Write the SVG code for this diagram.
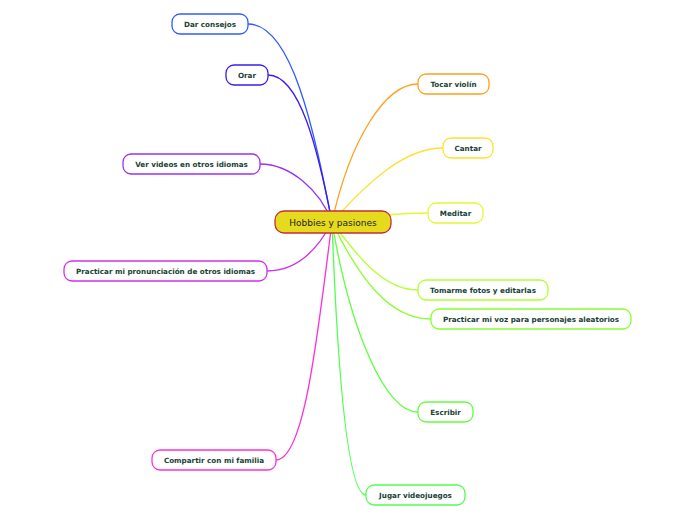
<svg xmlns="http://www.w3.org/2000/svg" width="696" height="520" viewBox="0 0 696 520">
<style>
.c{fill:none;stroke-width:1.3}
.n rect{fill:#fff;stroke-width:1.3}
.n text{font-family:"DejaVu Sans",Verdana,sans-serif;font-weight:bold;font-size:7.2px;fill:#173f33;text-anchor:middle}
</style>
<rect width="696" height="520" fill="#fff"/>
<g id="connectors">
<path class="c" stroke="#2f5cff" d="M332,222 C314,130 292,24 248,24"/>
<path class="c" stroke="#3a1cf0" d="M332,222 C318,150 300,75 268,75"/>
<path class="c" stroke="#9a30f5" d="M332,222 C320,190 290,164 260,164"/>
<path class="c" stroke="#d030ea" d="M332,222 C320,245 300,271 267,271"/>
<path class="c" stroke="#ff30d4" d="M332,222 C318,330 305,460 276,460"/>
<path class="c" stroke="#ffa01e" d="M332,222 C350,140 385,84 418,84"/>
<path class="c" stroke="#ffe030" d="M332,222 C370,180 405,148 443,148"/>
<path class="c" stroke="#e4f830" d="M332,222 C370,216 400,213 428,213"/>
<path class="c" stroke="#b4ff30" d="M332,222 C360,260 385,290 418,290"/>
<path class="c" stroke="#88ff30" d="M332,222 C360,280 390,319 431,319"/>
<path class="c" stroke="#60ff40" d="M332,222 C350,330 385,412 418,412"/>
<path class="c" stroke="#50ff50" d="M332,222 C336,330 345,495 366,495"/>
</g>
<g id="center">
<rect x="275" y="211" width="116" height="22" rx="9" fill="#e6da1c" stroke="#c42c3c" stroke-width="1.3"/>
<text x="333" y="225.5" font-family="DejaVu Sans,Verdana,sans-serif" font-size="9" fill="#222" text-anchor="middle">Hobbies y pasiones</text>
</g>
<g id="n1" class="n"><rect x="172" y="14" width="76" height="20" rx="8" stroke="#2f5cff"/><text x="210" y="26.5">Dar consejos</text></g>
<g id="n2" class="n"><rect x="226" y="65" width="42" height="20" rx="8" stroke="#3a1cf0"/><text x="247" y="77.5">Orar</text></g>
<g id="n3" class="n"><rect x="123" y="154" width="137" height="20" rx="8" stroke="#9a30f5"/><text x="191.5" y="166.5">Ver videos en otros idiomas</text></g>
<g id="n4" class="n"><rect x="64" y="261" width="203" height="20" rx="8" stroke="#d030ea"/><text x="165.5" y="273.5">Practicar mi pronunciación de otros idiomas</text></g>
<g id="n5" class="n"><rect x="152" y="450" width="124" height="20" rx="8" stroke="#ff30d4"/><text x="214" y="462.5">Compartir con mi familia</text></g>
<g id="n6" class="n"><rect x="418" y="74" width="71" height="20" rx="8" stroke="#ffa01e"/><text x="453.5" y="86.5">Tocar violín</text></g>
<g id="n7" class="n"><rect x="443" y="138" width="50" height="20" rx="8" stroke="#ffe030"/><text x="468" y="150.5">Cantar</text></g>
<g id="n8" class="n"><rect x="428" y="203" width="55" height="20" rx="8" stroke="#e4f830"/><text x="455.5" y="215.5">Meditar</text></g>
<g id="n9" class="n"><rect x="418" y="280" width="130" height="20" rx="8" stroke="#b4ff30"/><text x="483" y="292.5">Tomarme fotos y editarlas</text></g>
<g id="n10" class="n"><rect x="431" y="309" width="200" height="20" rx="8" stroke="#88ff30"/><text x="531" y="321.5">Practicar mi voz para personajes aleatorios</text></g>
<g id="n11" class="n"><rect x="418" y="402" width="55" height="20" rx="8" stroke="#60ff40"/><text x="445.5" y="414.5">Escribir</text></g>
<g id="n12" class="n"><rect x="366" y="485" width="99" height="20" rx="8" stroke="#50ff50"/><text x="415.5" y="497.5">Jugar videojuegos</text></g>
</svg>
